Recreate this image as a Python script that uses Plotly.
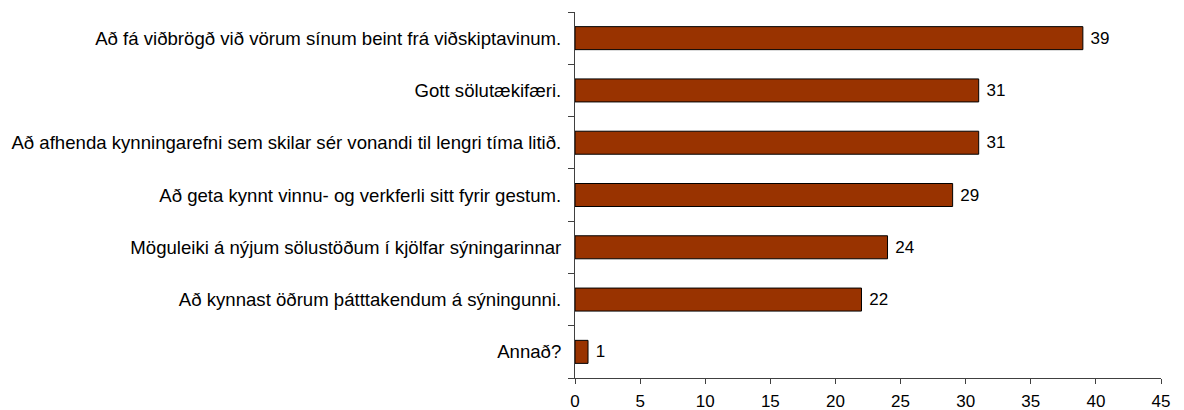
import plotly.graph_objects as go

categories = [
    "Að fá viðbrögð við vörum sínum beint frá viðskiptavinum.",
    "Gott sölutækifæri.",
    "Að afhenda kynningarefni sem skilar sér vonandi til lengri tíma litið.",
    "Að geta kynnt vinnu- og verkferli sitt fyrir gestum.",
    "Möguleiki á nýjum sölustöðum í kjölfar sýningarinnar",
    "Að kynnast öðrum þátttakendum á sýningunni.",
    "Annað?",
]
values = [39, 31, 31, 29, 24, 22, 1]
x_ticks = [0, 5, 10, 15, 20, 25, 30, 35, 40, 45]

fig = go.Figure(
    go.Bar(
        y=categories,
        x=values,
        orientation="h",
        width=0.44,
        marker=dict(color="#993300", line=dict(color="#000000", width=1)),
        text=[" " + str(v) for v in values],
        textposition="outside",
        textfont=dict(size=17, color="#000000"),
        cliponaxis=False,
    )
)

fig.update_layout(
    width=1176,
    height=402,
    margin=dict(l=567, r=23, t=4, b=32),
    plot_bgcolor="white",
    paper_bgcolor="white",
    font=dict(family="Liberation Sans, Arial, sans-serif", size=17, color="#000000"),
    showlegend=False,
)
fig.update_xaxes(
    range=[0, 45],
    tickvals=x_ticks,
    ticks="outside",
    ticklen=5,
    tickcolor="#404040",
    showline=True,
    linecolor="#404040",
    linewidth=1,
    showgrid=False,
    zeroline=False,
    tickfont=dict(size=17),
    ticklabelstandoff=3,
    automargin=False,
)
fig.update_yaxes(
    categoryorder="array",
    categoryarray=categories[::-1],
    range=[-0.5, 6.5],
    ticks="outside",
    ticklen=6,
    tickcolor="#404040",
    tickson="boundaries",
    showline=True,
    linecolor="#404040",
    linewidth=1,
    showgrid=False,
    zeroline=False,
    tickfont=dict(size=18.6),
    ticklabelstandoff=9,
    automargin=False,
)

fig.write_html("out.html")
